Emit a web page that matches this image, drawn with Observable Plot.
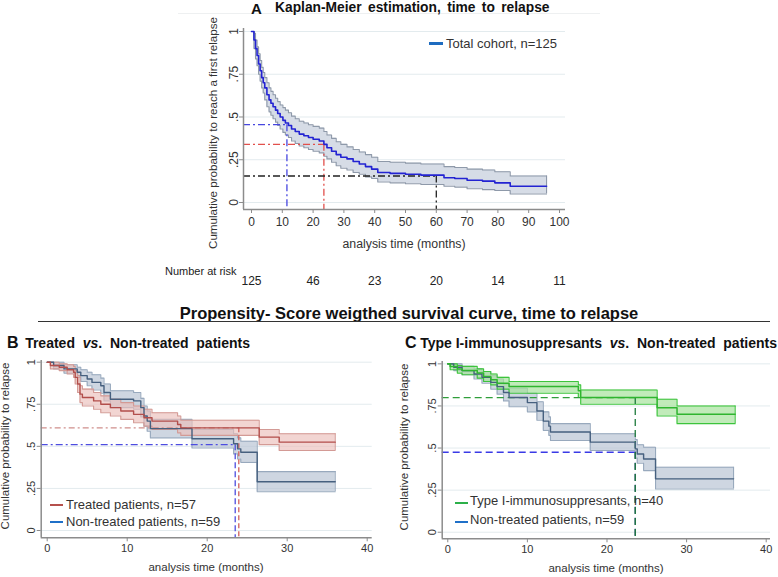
<!DOCTYPE html>
<html><head><meta charset="utf-8">
<script src="https://cdn.jsdelivr.net/npm/d3@7"></script>
<script src="https://cdn.jsdelivr.net/npm/@observablehq/plot@0.6"></script>
<style>
html,body{margin:0;padding:0;background:#fff;}
#root{position:relative;width:778px;height:577px;overflow:hidden;font-family:"Liberation Sans",Arial,sans-serif;color:#222;}
#root svg{position:absolute;}
.t{position:absolute;white-space:nowrap;line-height:1;}
.ln{position:absolute;}
</style></head><body><div id="root"></div>
<script>
// ---------- Panel A: Kaplan-Meier, total cohort ----------
const aTime  = [0,0.8,1.3,1.8,2.3,2.8,3.3,3.8,4.3,5,5.7,6.3,7,7.8,8.5,9.3,10.2,11,12,13,14.2,15.5,17,18.5,20,22,23.5,24.5,26,27.5,29,31,33,35,37,39,41,45,50,55,58,62.5,66,70,75,79,84,95.8];
const aSurv  = [1,.95,.90,.86,.81,.77,.73,.70,.67,.63,.60,.58,.56,.54,.52,.50,.48,.465,.45,.43,.415,.40,.39,.38,.37,.36,.34,.32,.30,.28,.265,.255,.24,.225,.21,.195,.175,.17,.165,.16,.16,.145,.14,.13,.125,.115,.095,.095];
const aUpper = [1,.99,.95,.91,.87,.83,.79,.76,.73,.70,.67,.65,.63,.61,.59,.57,.555,.54,.525,.505,.49,.475,.465,.455,.445,.435,.415,.395,.375,.355,.34,.325,.31,.295,.28,.265,.24,.235,.23,.225,.225,.21,.205,.195,.19,.18,.155,.155];
const aLower = [1,.90,.84,.80,.75,.71,.67,.64,.60,.56,.53,.51,.49,.47,.45,.43,.41,.395,.38,.36,.345,.33,.32,.31,.30,.29,.27,.255,.235,.215,.20,.19,.175,.165,.15,.14,.12,.115,.11,.105,.105,.095,.09,.08,.075,.07,.05,.05];
const aRefProb = [0.455, 0.34, 0.155];
const aRefTime = [11.5, 23.5, 60];
const aXTicks = [0,10,20,30,40,50,60,70,80,90,100];
const riskTimes  = [0,20,40,60,80,100];
const riskCounts = [125,46,23,20,14,11];

// ---------- Panel B: Treated vs Non-treated ----------
const bTrtTime  = [0,0.4,1.5,2.5,3.3,3.5,3.8,4.1,4.4,5.8,6.7,7.9,9.2,10.8,12.1,13.1,16.3,16.7,26.5,29,36];
const bTrtSurv  = [1,.98,.97,.955,.94,.91,.87,.81,.79,.77,.75,.73,.71,.69,.67,.65,.63,.61,.555,.525,.525];
const bTrtUpper = [1,1,.99,.985,.975,.95,.92,.86,.84,.82,.80,.78,.76,.74,.72,.70,.68,.655,.60,.575,.575];
const bTrtLower = [1,.96,.95,.93,.91,.87,.82,.76,.74,.72,.70,.68,.66,.64,.62,.60,.58,.565,.51,.475,.475];
const bNonTime  = [0,0.8,2.1,3.75,4.2,5,5.6,6.7,7.1,7.9,10.8,11.7,12.1,12.5,12.9,18.1,23.3,23.8,24.2,26.25,36];
const bNonSurv  = [1,.98,.96,.94,.92,.90,.88,.86,.82,.78,.77,.73,.68,.65,.605,.545,.515,.485,.465,.29,.29];
const bNonUpper = [1,1,.985,.97,.955,.94,.925,.905,.87,.83,.82,.785,.74,.71,.66,.60,.575,.55,.53,.35,.35];
const bNonLower = [1,.96,.935,.91,.885,.86,.835,.815,.77,.73,.72,.675,.62,.59,.55,.49,.455,.425,.405,.23,.23];
const bRefProb = [0.61, 0.51];
const bRefTime = [23.95, 23.5];

// ---------- Panel C: Type I-immunosuppresants vs Non-treated ----------
const cT1Time  = [0,0.3,1.2,1.8,3.7,4.5,5.4,6.2,7.7,16.4,16.7,26.3,28.8,36.1];
const cT1Surv  = [1,.985,.97,.96,.945,.925,.905,.885,.865,.84,.80,.74,.70,.70];
const cT1Upper = [1,1,.99,.985,.97,.955,.94,.92,.895,.875,.845,.79,.75,.75];
const cT1Lower = [1,.965,.945,.935,.915,.895,.875,.85,.825,.80,.76,.69,.645,.645];
const cNonTime  = [0,0.75,1.8,3.3,4.3,5.4,6.2,7,7.7,10,11.2,12,12.7,12.9,17.9,23.55,23.8,24.6,26.1,35.9];
const cNonSurv  = [1,.98,.96,.94,.92,.89,.865,.83,.80,.77,.72,.66,.63,.595,.535,.495,.465,.435,.317,.317];
const cNonUpper = [1,1,.985,.97,.955,.93,.91,.88,.855,.825,.775,.715,.685,.645,.585,.55,.52,.505,.386,.386];
const cNonLower = [1,.96,.935,.91,.885,.85,.82,.78,.745,.715,.665,.605,.575,.545,.485,.44,.41,.366,.257,.257];
const cRefProb = [0.80, 0.475];
const cRefTime = [23.55, 23.55];

const bcXTicks = [0,10,20,30,40];
const yTicks = [0,0.25,0.5,0.75,1];
const yTickLabels = ["0",".25",".5",".75","1"];

// ---------- helpers ----------
const rows = (t,s,u,l) => t.map((x,i)=>({t:x, s:s[i], hi:u[i], lo:l[i]}));
const AX = "#8c8c8c", GRID = "#e3ebee", FONT = "Liberation Sans, Arial, sans-serif";

function band(data, st){
  return [
    Plot.areaY(data,{x:"t",y1:"lo",y2:"hi",curve:"step-after",fill:st.fill,fillOpacity:st.fo ?? 1}),
    Plot.line(data,{x:"t",y:"hi",curve:"step-after",stroke:st.border,strokeWidth:1.1}),
    Plot.line(data,{x:"t",y:"lo",curve:"step-after",stroke:st.border,strokeWidth:1.1}),
    Plot.ruleX(data.slice(-1),{x:"t",y1:"lo",y2:"hi",stroke:st.border,strokeWidth:1.1})
  ];
}
function curve(data, color, w){
  return Plot.line(data,{x:"t",y:"s",curve:"step-after",stroke:color,strokeWidth:w});
}
function ref(prob, time, xMin, yMin, cH, cV, dH, dV){
  return [
    Plot.ruleY([prob],{x1:xMin,x2:time,stroke:cH,strokeDasharray:dH,strokeWidth:1.3}),
    Plot.ruleX([time],{y1:prob,y2:yMin,stroke:cV,strokeDasharray:dV,strokeWidth:1.3})
  ];
}
function grid(xd){
  return Plot.ruleY(yTicks,{x1:xd[0],x2:xd[1],stroke:GRID,strokeWidth:1});
}
function axes(xd, yd, xTicks, fs, xPad, yPad){
  return [
    Plot.ruleX([xd[0]],{y1:yd[0],y2:yd[1],stroke:AX,strokeWidth:1.5}),
    Plot.ruleY([yd[0]],{x1:xd[0],x2:xd[1],stroke:AX,strokeWidth:1.5}),
    Plot.axisX(xTicks,{tickSize:4,tickPadding:xPad,stroke:AX,fill:"#333",fontSize:fs,label:null,tickFormat:d=>String(d)}),
    Plot.axisY(yTicks,{tickSize:4,tickPadding:yPad,tickRotate:-90,stroke:AX,fill:"#333",fontSize:fs,label:null,
      tickFormat:d=>yTickLabels[yTicks.indexOf(d)]})
  ];
}

const root = document.getElementById("root");
function place(svg, left, top){ svg.style.left=left+"px"; svg.style.top=top+"px"; root.appendChild(svg); }
function text(html, x, y, o={}){
  const d=document.createElement("div"); d.className="t"; d.innerHTML=html;
  d.style.left=x+"px"; d.style.top=y+"px"; d.style.fontSize=(o.size||12)+"px";
  if(o.bold) d.style.fontWeight="bold";
  d.style.color=o.color||"#222";
  if(o.ws) d.style.wordSpacing=o.ws+"px";
  const ax=o.anchor==="middle"?"-50%":o.anchor==="end"?"-100%":"0";
  d.style.transform=`translate(${ax},-50%)`+(o.rotate?` rotate(${o.rotate}deg)`:"");
  root.appendChild(d);
}
function hline(x1,x2,y,color,w){
  const d=document.createElement("div"); d.className="ln";
  d.style.left=x1+"px"; d.style.width=(x2-x1)+"px"; d.style.top=(y-w/2)+"px"; d.style.height=w+"px";
  d.style.background=color; root.appendChild(d);
}

// ---------- Panel A ----------
const A = rows(aTime,aSurv,aUpper,aLower);
const xA=[-2.6,101.95], yA=[-0.041,1.0175];
const riskRows = riskTimes.map((t,i)=>({t, n:riskCounts[i]}));
place(Plot.plot({
  width:778,height:300,marginLeft:243,marginRight:213,marginTop:28,marginBottom:91,
  x:{domain:xA}, y:{domain:yA},
  style:{background:"transparent",fontFamily:FONT,overflow:"visible"},
  marks:[
    grid(xA),
    ...band(A,{fill:"#d6dce6",border:"#8e99a9"}),
    ...ref(aRefProb[0],aRefTime[0],xA[0],yA[0],"#4646e0","#4646e0","7,3,2,3","7,3,2,3"),
    ...ref(aRefProb[1],aRefTime[1],xA[0],yA[0],"#e2504c","#e2504c","7,3,2,3","7,3,2,3"),
    ...ref(aRefProb[2],aRefTime[2],xA[0],yA[0],"#222","#222","7,3,2,3","7,3,2,3"),
    curve(A,"#2323d2",1.6),
    ...axes(xA,yA,aXTicks,12,4,2),
    Plot.text(riskRows,{x:"t",text:"n",frameAnchor:"bottom",dy:75,fontSize:12,fill:"#222"})
  ]
}),0,0);

// ---------- Panel B ----------
const BT = rows(bTrtTime,bTrtSurv,bTrtUpper,bTrtLower);
const BN = rows(bNonTime,bNonSurv,bNonUpper,bNonLower);
const xB=[-0.75,40.625], yB=[-0.0434,1.01];
place(Plot.plot({
  width:389,height:277,marginLeft:40.7,marginRight:17.3,marginTop:60,marginBottom:39.7,
  x:{domain:xB}, y:{domain:yB},
  style:{background:"transparent",fontFamily:FONT,overflow:"visible"},
  marks:[
    grid(xB),
    ...band(BN,{fill:"#b9c5d4",fo:0.7,border:"#98a9bd"}),
    ...band(BT,{fill:"#ebbfba",fo:0.65,border:"#d39a95"}),
    ...ref(bRefProb[0],bRefTime[0],xB[0],yB[0],"#cf8f8c","#d0605c","6,3,2,3","5,3"),
    ...ref(bRefProb[1],bRefTime[1],xB[0],yB[0],"#4d4de0","#4d4de0","7,3,2,3","6,3"),
    curve(BN,"#46607f",1.4),
    curve(BT,"#b24e4b",1.4),
    ...axes(xB,yB,bcXTicks,11,2,2)
  ]
}),0,300);

// ---------- Panel C ----------
const CT = rows(cT1Time,cT1Surv,cT1Upper,cT1Lower);
const CN = rows(cNonTime,cNonSurv,cNonUpper,cNonLower);
const xC=[-0.7,40.54], yC=[-0.039,1.014];
place(Plot.plot({
  width:389,height:277,marginLeft:52.7,marginRight:8,marginTop:61,marginBottom:38.7,
  x:{domain:xC}, y:{domain:yC},
  style:{background:"transparent",fontFamily:FONT,overflow:"visible"},
  marks:[
    grid(xC),
    ...band(CN,{fill:"#b9c5d4",fo:0.7,border:"#98a9bd"}),
    ...band(CT,{fill:"#a6e39c",fo:0.7,border:"#3cc43c"}),
    ...ref(cRefProb[1],cRefTime[1],xC[0],yC[0],"#3a3ae6","#1c2f8c","7,4","7,4"),
    ...ref(cRefProb[0],cRefTime[0],xC[0],yC[0],"#2f9e3a","#1e7a3c","7,4","7,4"),
    curve(CN,"#46607f",1.4),
    curve(CT,"#2fb52f",1.5),
    ...axes(xC,yC,bcXTicks,11,2,2)
  ]
}),389,300);

// ---------- Texts ----------
hline(178,600,13,"#eef0f1",1);
text("A",251,8,{size:15,bold:true,color:"#111"});
text("Kaplan-Meier estimation, time to relapse",275,8,{size:13.8,bold:true,color:"#111",ws:2.5});
text("Cumulative probability to reach a first relapse",212.7,132.5,{size:11.6,anchor:"middle",rotate:-90,color:"#333"});
text("analysis time (months)",404,244,{size:12.3,anchor:"middle",color:"#333"});
text("Number at risk",165,271,{size:11,color:"#222"});
hline(429,443,43.5,"#1e6cc0",3);
text("Total cohort, n=125",446,43,{size:13,color:"#333"});

text("Propensity- Score weigthed survival curve, time to relapse",409,313,{size:16.5,bold:true,anchor:"middle",color:"#111"});
hline(38,770,321.7,"#333",1.2);

text("B",7,343,{size:16,bold:true,color:"#111"});
text("Treated&nbsp; <i>vs</i>.&nbsp; Non-treated&nbsp; patients",250,343,{size:14,bold:true,anchor:"end",color:"#111"});
text("Cumulative probability to relapse",5.5,446,{size:11.5,anchor:"middle",rotate:-90,color:"#333"});
text("analysis time (months)",206,568,{size:11.5,anchor:"middle",color:"#333"});
hline(50,63,505,"#b5504c",2);
text("Treated patients, n=57",66,504,{size:13,color:"#333"});
hline(50,63,521.5,"#1f70c8",2);
text("Non-treated patients, n=59",66,520.5,{size:13,color:"#333"});

text("C",405,343,{size:16,bold:true,color:"#111"});
text("Type I-immunosuppresants&nbsp; <i>vs</i>.&nbsp; Non-treated&nbsp; patients",777,343,{size:14,bold:true,anchor:"end",color:"#111"});
text("Cumulative probability to relapse",405,447,{size:11.5,anchor:"middle",rotate:-90,color:"#333"});
text("analysis time (months)",606,569,{size:11.5,anchor:"middle",color:"#333"});
hline(455,468,502.5,"#2cb04a",2);
text("Type I-immunosuppresants, n=40",470,499.5,{size:13,color:"#333"});
hline(455,468,521.7,"#1f70c8",2);
text("Non-treated patients, n=59",470,518.5,{size:13,color:"#333"});
</script></body></html>
